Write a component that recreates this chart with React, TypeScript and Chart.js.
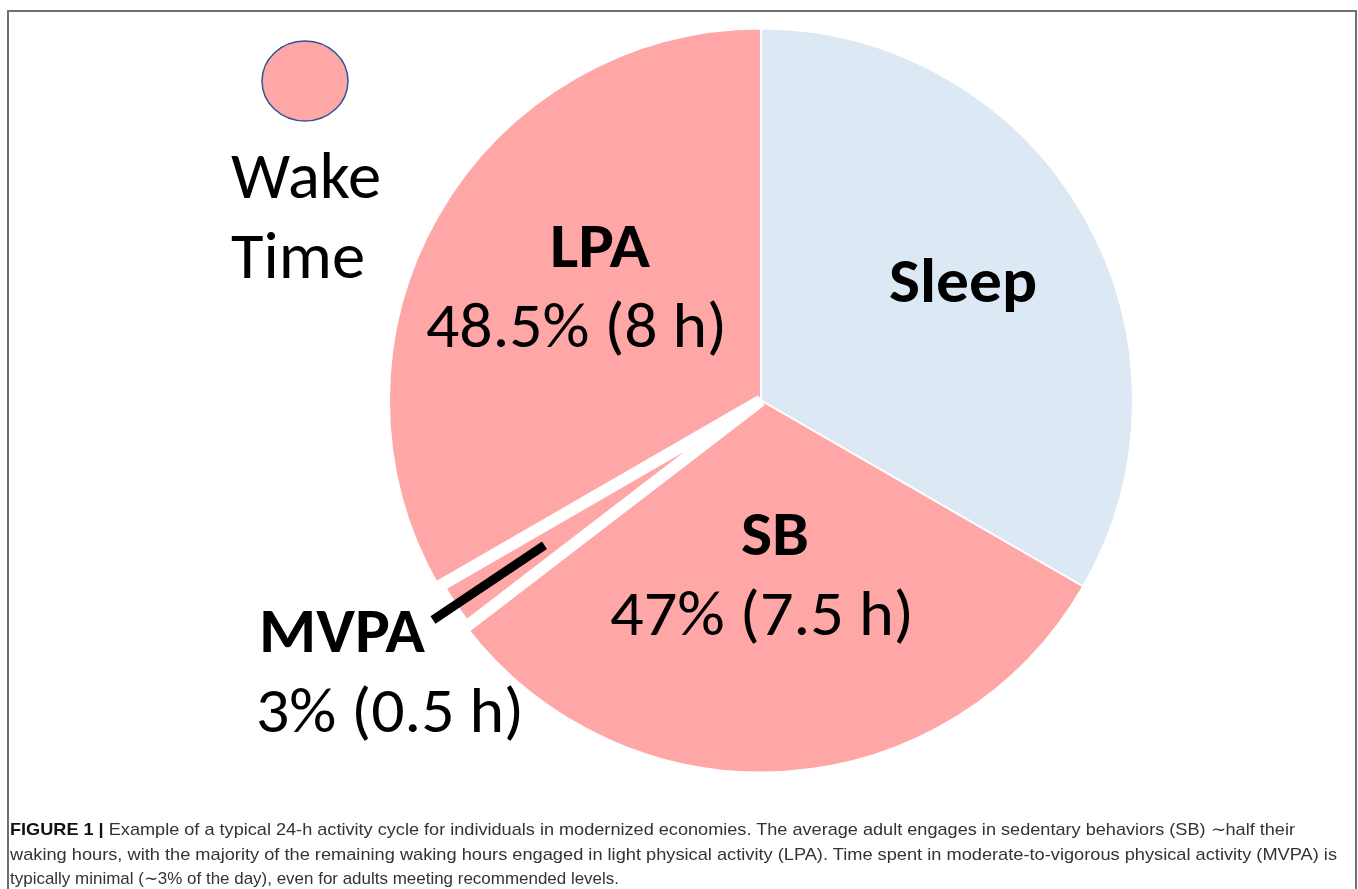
import React, { useEffect, useRef } from "react";
import { Chart, registerables } from "chart.js";

Chart.register(...registerables);

// ---- data ----
const categories = ["LPA", "Sleep", "SB", "MVPA"];
const hours = [8, 8, 7.5, 0.5];
const percentLabels = ["48.5% (8 h)", "", "47% (7.5 h)", "3% (0.5 h)"];
const sliceColors = ["#FFA6A6", "#DDE8F5", "#FFA6A6", "#FFA6A6"];
const sliceBorderWidths = [2, 2, 2, 12];
const legendLines = ["Wake", "Time"];
const captionBold = "FIGURE 1 | ";
const captionLines = [
  "Example of a typical 24-h activity cycle for individuals in modernized economies. The average adult engages in sedentary behaviors (SB) \u223Chalf their",
  "waking hours, with the majority of the remaining waking hours engaged in light physical activity (LPA). Time spent in moderate-to-vigorous physical activity (MVPA) is",
  "typically minimal (\u223C3% of the day), even for adults meeting recommended levels.",
];

// ---- layout ----
const CANVAS_LEFT = 360;
const CANVAS_TOP = 0;
const CANVAS_W = 802;
const CANVAS_H = 801;
const PIE_RADIUS = 372;
const FONT = "Carlito, 'Open Sans', 'Noto Sans', sans-serif";
const CAPTION_FONT = "'Liberation Sans Narrow', 'Liberation Sans', Arial, sans-serif";

// label placement: [x, baseline, width] for title and percent line per category
const titlePos: Record<string, [number, number, number]> = {
  LPA: [550, 267, 100],
  Sleep: [889, 302, 148],
  SB: [741, 555, 68],
  MVPA: [259, 652, 166],
};
const pctPos: Record<string, [number, number, number]> = {
  LPA: [426, 347, 301],
  SB: [610, 635, 304],
  MVPA: [256, 732, 268],
};

const calloutPlugin = {
  id: "callout",
  afterDatasetsDraw(chart: any) {
    const meta = chart.getDatasetMeta(0);
    const idx = categories.indexOf("MVPA");
    const arc = meta.data[idx];
    if (!arc) return;
    const p = arc.getProps(["x", "y", "startAngle", "endAngle", "outerRadius"], true);
    const mid = (p.startAngle + p.endAngle) / 2;
    const ex = p.x + Math.cos(mid) * p.outerRadius * 0.7;
    const ey = p.y + Math.sin(mid) * p.outerRadius * 0.7;
    const sx = 433 - CANVAS_LEFT;
    const sy = 620 - CANVAS_TOP;
    const ctx = chart.ctx;
    ctx.save();
    ctx.strokeStyle = "#000";
    ctx.lineWidth = 9;
    ctx.lineCap = "butt";
    ctx.beginPath();
    ctx.moveTo(sx, sy);
    ctx.lineTo(ex, ey);
    ctx.stroke();
    ctx.restore();
  },
};

export default function App() {
  const ref = useRef<HTMLCanvasElement | null>(null);

  useEffect(() => {
    if (!ref.current) return;
    const chart = new Chart(ref.current, {
      type: "pie",
      data: {
        labels: categories,
        datasets: [
          {
            data: hours,
            backgroundColor: sliceColors,
            borderColor: "#FFFFFF",
            borderWidth: sliceBorderWidths,
            hoverBorderWidth: sliceBorderWidths,
            hoverOffset: 0,
          },
        ],
      },
      options: {
        animation: false,
        responsive: false,
        maintainAspectRatio: false,
        devicePixelRatio: 1,
        events: [],
        rotation: 240,
        radius: PIE_RADIUS,
        layout: { padding: 0 },
        plugins: {
          legend: { display: false },
          tooltip: { enabled: false },
          title: { display: false },
        },
      } as any,
      plugins: [calloutPlugin],
    });
    return () => chart.destroy();
  }, []);

  const textEl = (
    key: string,
    txt: string,
    pos: [number, number, number],
    bold: boolean,
    size: number
  ) => (
    <text
      key={key}
      x={pos[0]}
      y={pos[1]}
      textLength={pos[2]}
      lengthAdjust="spacingAndGlyphs"
      fontFamily={FONT}
      fontWeight={bold ? 700 : 400}
      fontSize={size}
      fill="#000"
    >
      {txt}
    </text>
  );

  return (
    <div
      style={{
        position: "fixed",
        left: 0,
        top: 0,
        width: 1358,
        height: 889,
        overflow: "hidden",
        background: "#fff",
      }}
    >
      <div
        style={{
          position: "absolute",
          left: 7,
          top: 10,
          width: 1350,
          height: 900,
          boxSizing: "border-box",
          border: "2px solid #707070",
          borderBottom: "none",
        }}
      />
      <canvas
        ref={ref}
        width={CANVAS_W}
        height={CANVAS_H}
        style={{
          position: "absolute",
          left: CANVAS_LEFT,
          top: CANVAS_TOP,
          width: CANVAS_W,
          height: CANVAS_H,
        }}
      />
      <svg
        width={1358}
        height={889}
        style={{ position: "absolute", left: 0, top: 0, pointerEvents: "none" }}
      >
        <ellipse cx={305} cy={81} rx={43} ry={40} fill="#FFA6A6" stroke="#2F5597" strokeWidth={1.5} />
        {textEl("wake", legendLines[0], [231, 198, 150], false, 66)}
        {textEl("time", legendLines[1], [231, 278, 134], false, 66)}
        {categories.map((c) => textEl("t" + c, c, titlePos[c], true, 63))}
        {categories.map((c, i) =>
          percentLabels[i] ? textEl("p" + c, percentLabels[i], pctPos[c], false, 64) : null
        )}
        <text
          x={10}
          y={835}
          textLength={1285}
          lengthAdjust="spacingAndGlyphs"
          fontFamily={CAPTION_FONT}
          fontSize={17}
          fill="#333"
        >
          <tspan fontWeight={700} fill="#111">{captionBold}</tspan>
          {captionLines[0]}
        </text>
        <text x={10} y={860} textLength={1327} lengthAdjust="spacingAndGlyphs" fontFamily={CAPTION_FONT} fontSize={17} fill="#333">
          {captionLines[1]}
        </text>
        <text x={10} y={884} textLength={609} lengthAdjust="spacingAndGlyphs" fontFamily={CAPTION_FONT} fontSize={17} fill="#333">
          {captionLines[2]}
        </text>
      </svg>
    </div>
  );
}
